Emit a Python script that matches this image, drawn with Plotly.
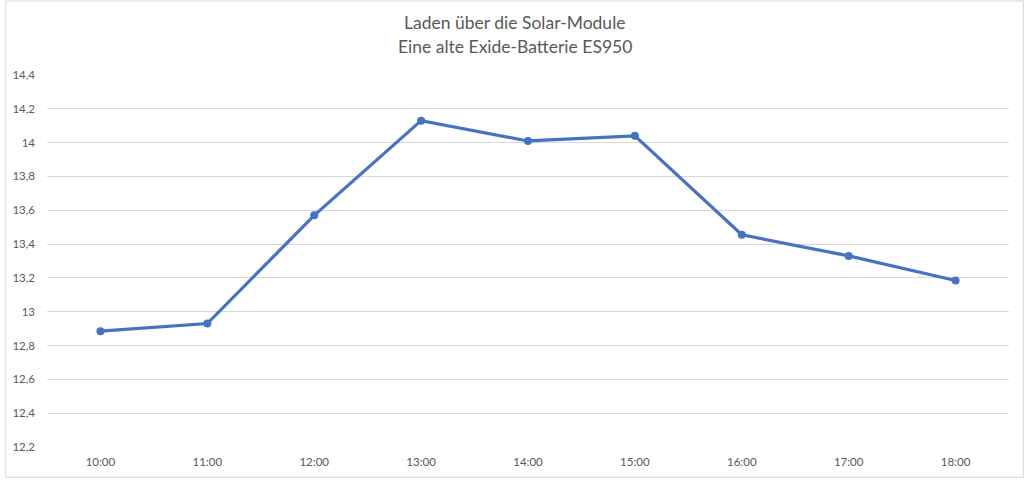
import plotly.graph_objects as go

times = ["10:00", "11:00", "12:00", "13:00", "14:00", "15:00", "16:00", "17:00", "18:00"]
voltage = [12.885, 12.93, 13.57, 14.13, 14.01, 14.04, 13.455, 13.33, 13.185]
y_tickvals = [12.2, 12.4, 12.6, 12.8, 13.0, 13.2, 13.4, 13.6, 13.8, 14.0, 14.2, 14.4]
y_ticktext = ["12,2", "12,4", "12,6", "12,8", "13", "13,2", "13,4", "13,6", "13,8", "14", "14,2", "14,4"]
title_lines = ["Laden über die Solar-Module", "Eine alte Exide-Batterie ES950"]

W, H = 1024, 480
ml, mr, mt, mb = 42, 15, 75, 31
pw, ph = W - ml - mr, H - mt - mb

fig = go.Figure()
fig.add_trace(go.Scatter(
    x=times, y=voltage, mode="lines+markers",
    line=dict(color="#4472C4", width=3.2),
    marker=dict(color="#4472C4", size=8),
    hoverinfo="x+y",
))

title_y_px = [22, 46]
annotations = [
    dict(text=t, xref="paper", yref="paper", x=(512 - ml) / pw,
         y=1 + (mt - ypx) / ph, xanchor="center", yanchor="middle",
         showarrow=False, font=dict(size=17.5, color="#595959"))
    for t, ypx in zip(title_lines, title_y_px)
]

fig.update_layout(
    width=W, height=H,
    margin=dict(l=ml, r=mr, t=mt, b=mb),
    paper_bgcolor="white", plot_bgcolor="white",
    showlegend=False,
    separators=",.",
    font=dict(family="Lato, Carlito, Open Sans, sans-serif", color="#595959", size=12),
    annotations=annotations,
    xaxis=dict(
        type="category", showgrid=False, zeroline=False, showline=False,
        ticks="", tickfont=dict(size=11.5, color="#595959"),
        range=[-0.5, len(times) - 0.5],
        ticklabelstandoff=6,
    ),
    yaxis=dict(
        range=[12.2, 14.4], tickvals=y_tickvals, ticktext=y_ticktext,
        showgrid=True, gridcolor="#D9D9D9", gridwidth=1,
        zeroline=False, showline=False, ticks="",
        tickfont=dict(size=11.5, color="#595959"),
        ticklabelstandoff=11,
    ),
    shapes=[dict(
        type="rect", xref="paper", yref="paper",
        x0=(-ml + 0.5) / pw, x1=(pw + mr - 0.5) / pw,
        y0=(-mb + 0.5) / ph, y1=(ph + mt - 0.5) / ph,
        line=dict(color="#D9D9D9", width=1), layer="below",
    )],
)

fig.write_html(
    "out.html",
    config={"displayModeBar": False},
    post_script="document.body.style.margin='0';document.body.style.overflow='hidden';",
)
